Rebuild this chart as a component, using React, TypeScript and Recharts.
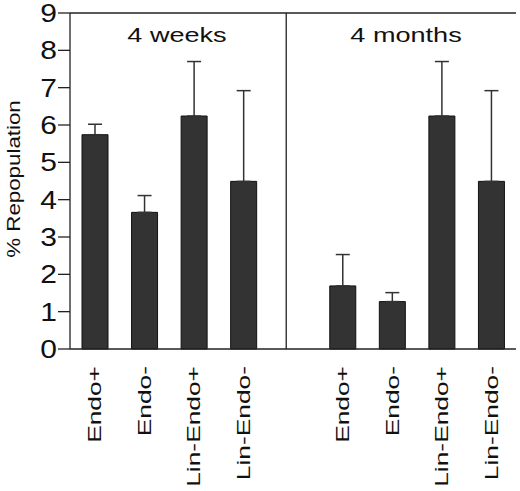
import React from 'react';
import { BarChart, Bar, XAxis, YAxis, ErrorBar, ReferenceLine, Customized } from 'recharts';

// 9 slots on the x axis; the empty 'gap' slot separates the two time points
const groups = ['4w', '4w', '4w', '4w', 'gap', '4m', '4m', '4m', '4m'];
const categories = ['Endo+', 'Endo-', 'Lin-Endo+', 'Lin-Endo-', '', 'Endo+', 'Endo-', 'Lin-Endo+', 'Lin-Endo-'];
const repopulation = [5.74, 3.66, 6.24, 4.49, null, 1.69, 1.27, 6.24, 4.49];
const upperError = [0.28, 0.45, 1.46, 2.43, null, 0.84, 0.24, 1.46, 2.43];
const yTicks = [0, 1, 2, 3, 4, 5, 6, 7, 8, 9];
const panelTitles = ['4 weeks', '4 months'];

const data = categories.map((label, i) => ({
  key: `${groups[i]}|${label}`,
  value: repopulation[i],
  err: upperError[i] == null ? null : [0, upperError[i]],
}));

const FONT = '"Liberation Sans", Arial, sans-serif';
const AXIS = { stroke: '#222', strokeWidth: 1.3 };

const YTick = ({ x, y, payload }: any) => (
  <text
    transform={`translate(${x},${y}) scale(1.2,1)`}
    textAnchor="end"
    dy="0.36em"
    fontSize={25}
    fontFamily={FONT}
    fill="#111"
  >
    {payload.value}
  </text>
);

const XTick = ({ x, y, payload }: any) => (
  <text
    transform={`translate(${x},${y}) rotate(-90) scale(1.55,1.1)`}
    textAnchor="end"
    dy="0.35em"
    fontSize={17}
    fontFamily={FONT}
    fill="#111"
  >
    {String(payload.value).split('|')[1]}
  </text>
);

// divider sits a little after the start of the blank slot
const Divider = (p: any) => (
  <line x1={p.x1 + 18} y1={p.y1} x2={p.x2 + 18} y2={p.y2} stroke="#222" strokeWidth={1.3} />
);

const Texts = () => (
  <g fontFamily={FONT} fill="#111">
    <text transform="translate(14,179) rotate(-90) scale(1.24,1)" textAnchor="middle" dy="0.35em" fontSize={18}>
      % Repopulation
    </text>
    <text transform="translate(177,42) scale(1.29,1)" textAnchor="middle" fontSize={21}>
      {panelTitles[0]}
    </text>
    <text transform="translate(406,42) scale(1.29,1)" textAnchor="middle" fontSize={21}>
      {panelTitles[1]}
    </text>
  </g>
);

export default function App() {
  return (
    <div style={{ position: 'absolute', left: 0, top: 0 }}>
      <BarChart
        width={520}
        height={491}
        data={data}
        margin={{ top: 13, right: 4, left: 0, bottom: 0 }}
        style={{ overflow: 'visible' }}
      >
        <XAxis
          dataKey="key"
          height={142}
          tickLine={false}
          tickSize={0}
          tickMargin={17}
          interval={0}
          tick={<XTick />}
          axisLine={AXIS}
        />
        <XAxis xAxisId="frame" type="number" domain={[0, 9]} allowDataOverflow hide />
        <YAxis
          width={70}
          domain={[0, 9]}
          ticks={yTicks}
          interval={0}
          tickSize={12}
          tickMargin={1}
          tick={<YTick />}
          tickLine={AXIS}
          axisLine={AXIS}
        />
        <ReferenceLine y={9} ifOverflow="visible" {...AXIS} />
        <ReferenceLine xAxisId="frame" x={9} ifOverflow="visible" {...AXIS} />
        <ReferenceLine x="gap|" position="start" ifOverflow="visible" shape={Divider} />
        <Bar dataKey="value" fill="#333333" stroke="#111" strokeWidth={1} barSize={26} isAnimationActive={false}>
          <ErrorBar dataKey="err" direction="y" width={7} stroke="#333" strokeWidth={1.5} isAnimationActive={false} />
        </Bar>
        <Customized component={Texts} />
      </BarChart>
    </div>
  );
}
